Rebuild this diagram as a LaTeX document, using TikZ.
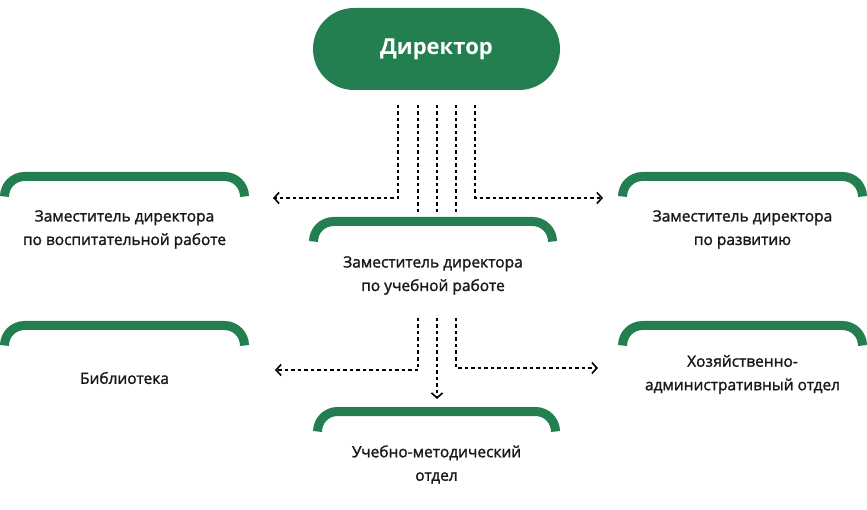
\documentclass[tikz,border=0pt]{standalone}
\usepackage{fontspec}
\setmainfont{Open Sans}
\newfontfamily\semib[FakeBold=1.6]{Open Sans}
\usetikzlibrary{arrows.meta}
\definecolor{grn}{HTML}{237F4F}
\tikzset{
  band/.style={draw=grn,line width=9pt},
  lbl/.style={align=center,font=\semib\fontsize{15.5}{23.5}\selectfont,text=black!90},
  conn/.style={line width=1.6pt,dash pattern=on 3.5pt off 3pt},
  arr/.style={conn,-{Straight Barb[length=5pt,width=11pt,line width=1.6pt]}}
}
\newcommand{\bandat}[3]{% xleft xright y
  \draw[band] (#1+4.5,#3-20) arc[start angle=180,end angle=90,radius=20] -- (#2-24.5,#3) arc[start angle=90,end angle=0,radius=20];}
\begin{document}
\begin{tikzpicture}[x=1pt,y=1pt]
\useasboundingbox (0,0) rectangle (867,509);
\node[fill=grn,rounded corners=41pt,minimum width=247pt,minimum height=82pt,text=white,font=\fontsize{22}{26}\selectfont\bfseries] (dir) at (436.5,460) {Директор};
\bandat{0}{249}{332.5}
\bandat{309}{557}{287.5}
\bandat{618}{867}{332.5}
\bandat{0}{249}{183.5}
\bandat{618}{867}{183.5}
\bandat{313}{560}{97.5}
\node[lbl] (vosp) at (124.5,279.5) {Заместитель директора\\по воспитательной работе};
\node[lbl] (ucheb) at (433,233.5) {Заместитель директора\\по учебной работе};
\node[lbl] (razv) at (742.5,279.5) {Заместитель директора\\по развитию};
\node[lbl] (bib) at (124.5,131) {Библиотека};
\node[lbl] (hoz) at (742.5,134.5) {Хозяйственно-\\административный отдел};
\node[lbl] (umo) at (436.5,44.5) {Учебно-методический\\отдел};
\coordinate (d1) at (398,404); \coordinate (d2) at (418,404); \coordinate (d3) at (437,404);
\coordinate (d4) at (456,404); \coordinate (d5) at (475,404);
\coordinate (vE) at (273,311); \coordinate (rW) at (603,311);
\coordinate (uN) at (0,294);
\coordinate (u1) at (418,191); \coordinate (u2) at (437,191); \coordinate (u3) at (456,191);
\coordinate (bE) at (275,139); \coordinate (hW) at (598,141); \coordinate (mN) at (437,110);
\draw[arr] (d1) |- (vE);
\draw[arr] (d5) |- (rW);
\draw[conn] (d2) -- (d2 |- uN);
\draw[conn] (d3) -- (d3 |- uN);
\draw[conn] (d4) -- (d4 |- uN);
\draw[arr] (u1) |- (bE);
\draw[arr] (u3) |- (hW);
\draw[arr] (u2) -- (mN);
\end{tikzpicture}
\end{document}
